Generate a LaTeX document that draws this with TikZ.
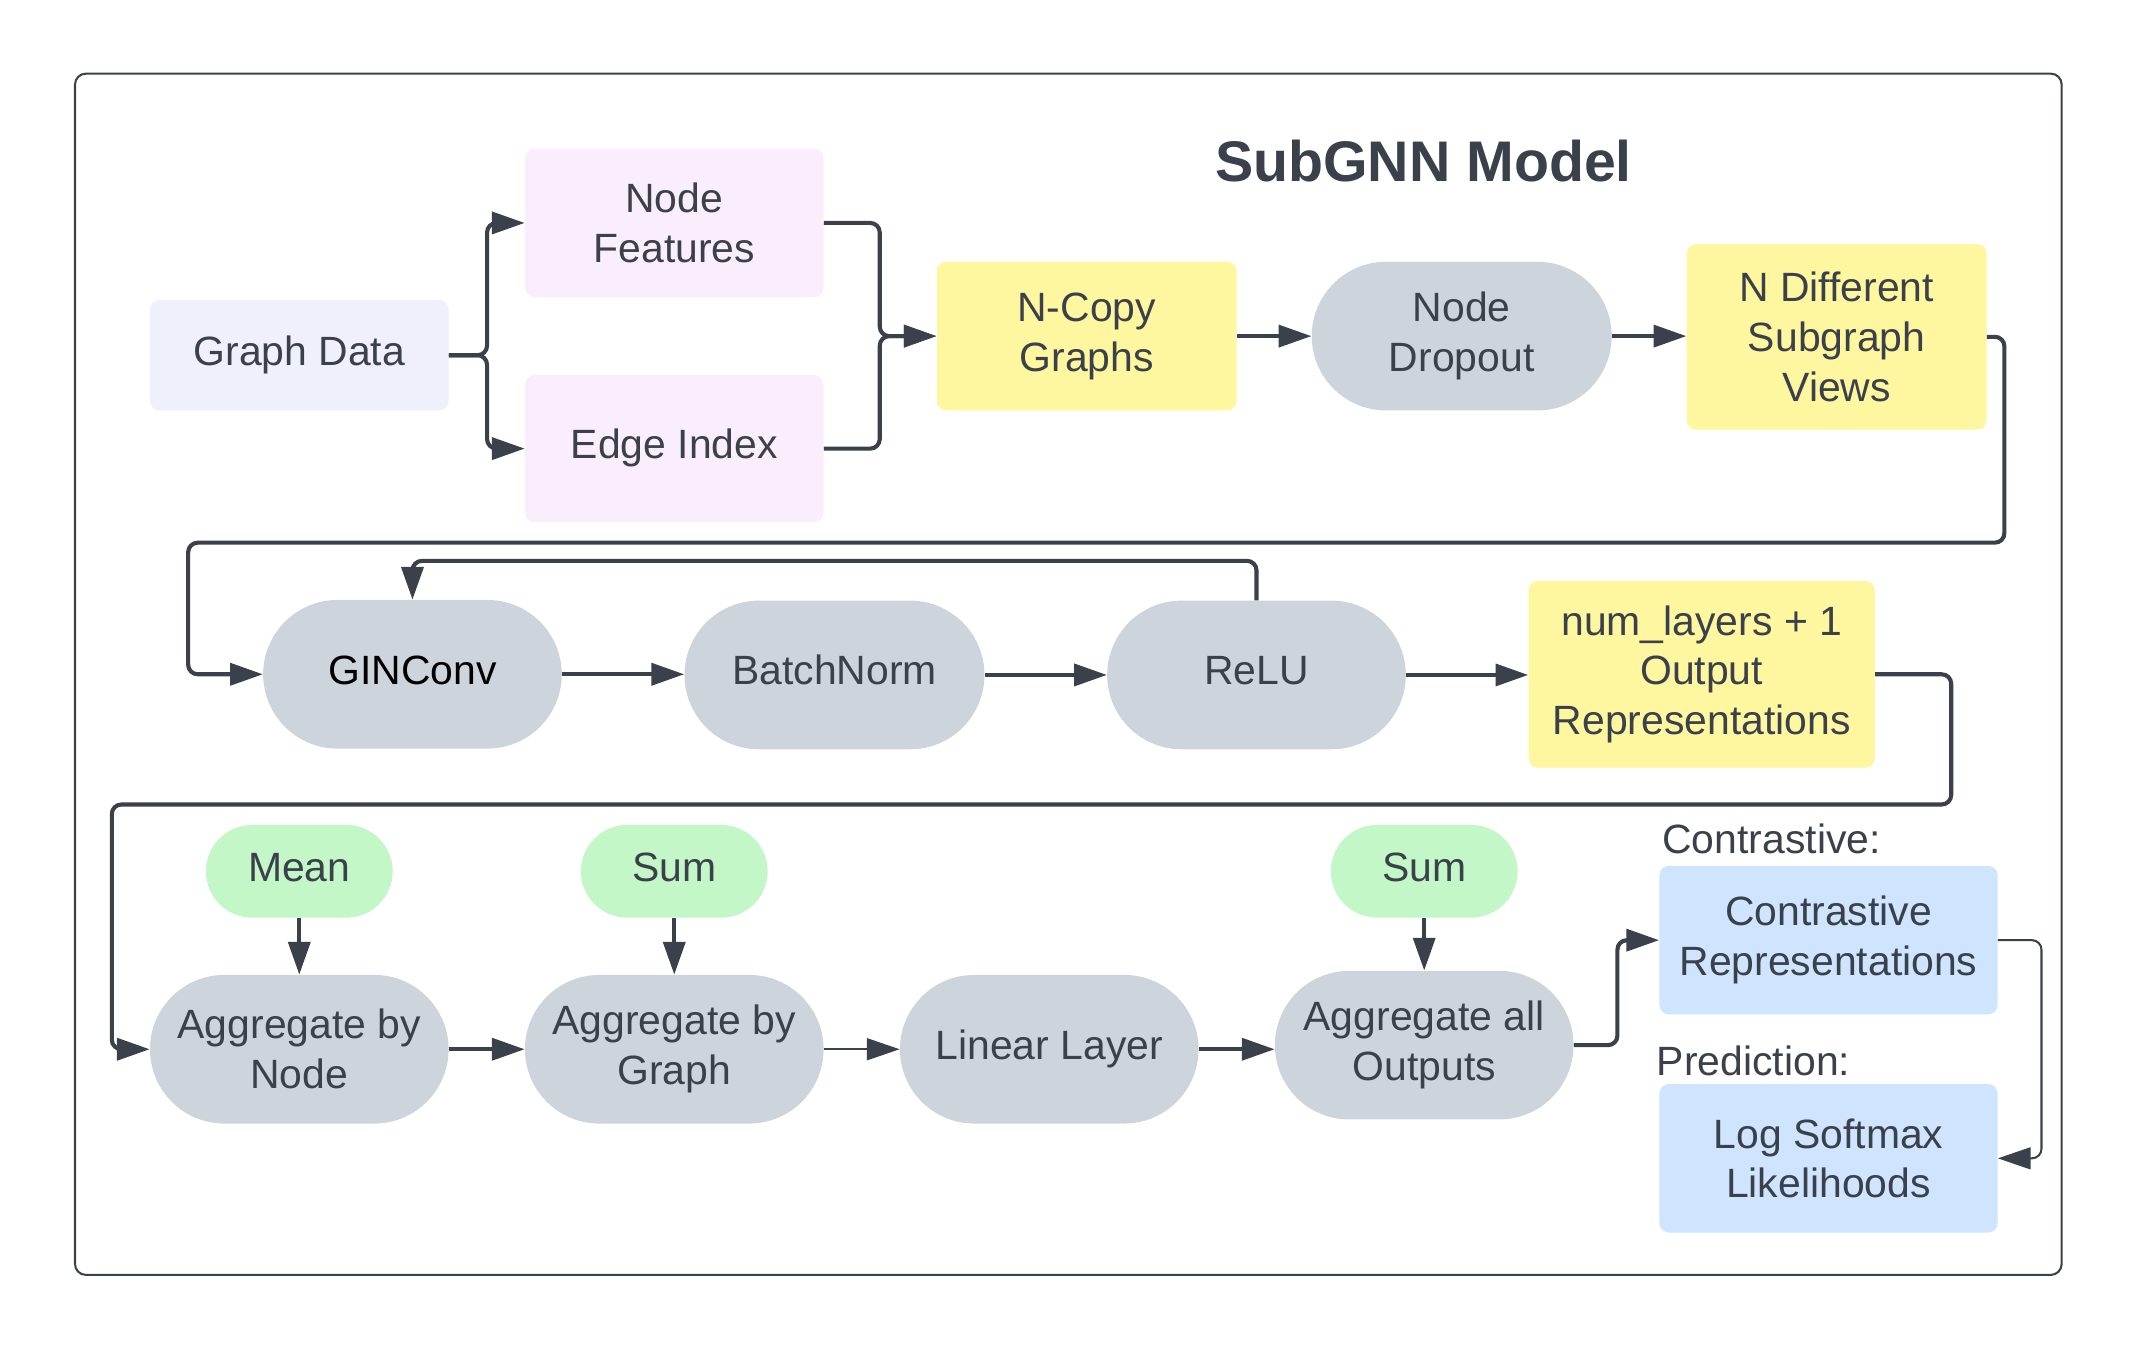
\documentclass[tikz,border=0pt]{standalone}
\usepackage{fontspec}
\setmainfont{Liberation Sans}
\usetikzlibrary{arrows.meta,shapes.misc}
\definecolor{ink}{HTML}{3A414A}
\definecolor{lav}{HTML}{F0F0FD}
\definecolor{pinkbox}{HTML}{FBEEFC}
\definecolor{yel}{HTML}{FFF6A0}
\definecolor{grayst}{HTML}{CED4DC}
\definecolor{greenst}{HTML}{C3F7C8}
\definecolor{bluebox}{HTML}{CFE4FE}
\begin{document}
\begin{tikzpicture}[x=1pt,y=1pt,
  every node/.style={font=\fontsize{30}{36.5}\selectfont, text=ink, inner sep=0pt, align=center},
  rbox/.style={rectangle, rounded corners=7pt, fill=#1},
  stad/.style={rounded rectangle, fill=#1},
  oneline/.style={execute at begin node=\strut},
  conn/.style={draw=ink, line width=3pt, rounded corners=7pt, -{Triangle[length=24pt,width=16pt]}},
  thinconn/.style={conn, line width=1.5pt},
  lbl/.style={anchor=west}]
\useasboundingbox (0,0) rectangle (1568,-991.5);
% frame
\node[draw=ink, line width=1.5pt, rounded corners=8pt, minimum width=1457pt, minimum height=881pt] (frame) at (783.5,-494.5) {};
\node[font=\bfseries\fontsize{42}{50}\selectfont] (title) at (1044,-118) {SubGNN Model};
% row 1
\node[rbox=lav, oneline, minimum width=219pt, minimum height=81pt] (gd) at (219.5,-260.5) {Graph Data};
\node[rbox=pinkbox, minimum width=219pt, minimum height=109pt] (nf) at (494.5,-163.5) {Node\\Features};
\node[rbox=pinkbox, oneline, minimum width=219pt, minimum height=108pt] (ei) at (494.5,-329) {Edge Index};
\node[rbox=yel, minimum width=220pt, minimum height=109pt] (nc) at (797,-246.5) {N-Copy\\Graphs};
\node[stad=grayst, minimum width=220pt, minimum height=109pt] (nd) at (1072,-246.5) {Node\\Dropout};
\node[rbox=yel, minimum width=220pt, minimum height=136pt] (nv) at (1347,-247) {N Different\\Subgraph\\Views};
% row 2
\node[stad=grayst, oneline, minimum width=219pt, minimum height=109pt, text=black] (gin) at (302.5,-494.5) {GINConv};
\node[stad=grayst, oneline, minimum width=220pt, minimum height=109pt] (bn) at (612,-495) {BatchNorm};
\node[stad=grayst, oneline, minimum width=219pt, minimum height=109pt] (relu) at (921.5,-495) {ReLU};
\node[rbox=yel, minimum width=254pt, minimum height=137pt] (nl) at (1248,-494.5) {num\_layers + 1\\Output\\Representations};
% row 3
\node[stad=greenst, oneline, minimum width=137pt, minimum height=68pt] (mean) at (219.5,-639) {Mean};
\node[stad=greenst, oneline, minimum width=137pt, minimum height=68pt] (sum1) at (494.5,-639) {Sum};
\node[stad=greenst, oneline, minimum width=137pt, minimum height=68pt] (sum2) at (1044.5,-639) {Sum};
\node[stad=grayst, minimum width=219pt, minimum height=109pt] (an) at (219.5,-769.5) {Aggregate by\\Node};
\node[stad=grayst, minimum width=219pt, minimum height=109pt] (ag) at (494.5,-769.5) {Aggregate by\\Graph};
\node[stad=grayst, oneline, minimum width=219pt, minimum height=109pt] (ll) at (769.5,-769.5) {Linear Layer};
\node[stad=grayst, minimum width=219pt, minimum height=109pt] (aa) at (1044.5,-766.5) {Aggregate all\\Outputs};
\node[rbox=bluebox, minimum width=248pt, minimum height=109pt] (cr) at (1341,-689.5) {Contrastive\\Representations};
\node[rbox=bluebox, minimum width=248pt, minimum height=109pt] (ls) at (1341,-849.5) {Log Softmax\\Likelihoods};
\node[lbl] (lc) at (1219,-615) {Contrastive:};
\node[lbl] (lp) at (1215,-778) {Prediction:};
% helper coordinates
\coordinate (r1) at (1470,-398);
\coordinate (l1) at (138,-398);
\coordinate (r2) at (1431,-590);
\coordinate (l2) at (82,-590);
% connectors row 1
\draw[conn] (gd.east) -- ++(28,0) |- (nf.west);
\draw[conn] (gd.east) -- ++(28,0) |- (ei.west);
\draw[conn] (nf.east) -- ++(41,0) |- (nc.west);
\draw[conn] (ei.east) -- ++(41,0) |- (nc.west);
\draw[conn] (nc.east) -- (nd.west);
\draw[conn] (nd.east) -- (nv.west |- nd.east);
\draw[conn] (nv.east) -| (r1) -- (l1) |- (gin.west);
% row 2
\draw[conn] (gin.east) -- (bn.west |- gin.east);
\draw[conn] (bn.east) -- (relu.west);
\draw[conn] (relu.north) -- ++(0,29) -| (gin.north);
\draw[conn] (relu.east) -- (nl.west |- relu.east);
\draw[conn] (nl.east) -| (r2) -- (l2) |- (an.west);
% row 3
\draw[conn] (mean.south) -- (an.north);
\draw[conn] (sum1.south) -- (ag.north);
\draw[conn] (sum2.south) -- (aa.north);
\draw[conn] (an.east) -- (ag.west);
\draw[thinconn] (ag.east) -- (ll.west);
\draw[conn] (ll.east) -- (aa.west |- ll.east);
\draw[conn] (aa.east) -- ++(32,0) |- (cr.west);
\draw[thinconn] (cr.east) -- ++(32,0) |- (ls.east);
\end{tikzpicture}
\end{document}
